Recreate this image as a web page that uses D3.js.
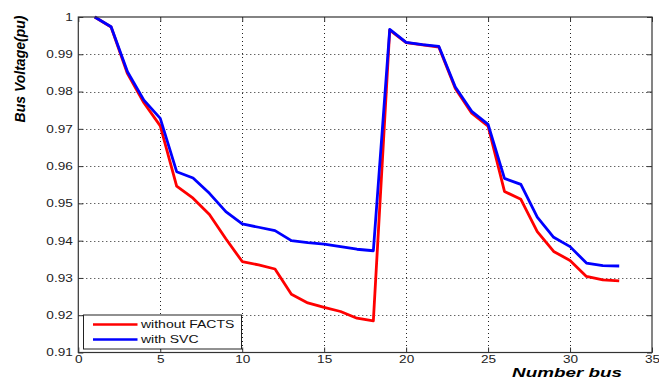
<!DOCTYPE html>
<html><head><meta charset="utf-8">
<script src="https://cdn.jsdelivr.net/npm/d3@7"></script>
<style>body{margin:0;background:#fff;} svg{display:block;}</style>
</head><body>
<svg id="chart" width="659" height="378"></svg>
<script>
const buses = [1,2,3,4,5,6,7,8,9,10,11,12,13,14,15,16,17,18,19,20,21,22,23,24,25,26,27,28,29,30,31,32,33];
const withoutFACTS = [1.0000,0.9973,0.9848,0.9770,0.9708,0.9546,0.9514,0.9470,0.9405,0.9344,0.9335,0.9324,0.9256,0.9233,0.9221,0.9210,0.9192,0.9185,0.9965,0.9931,0.9925,0.9919,0.9808,0.9742,0.9707,0.9532,0.9511,0.9424,0.9371,0.9347,0.9304,0.9295,0.9292];
const withSVC = [1.0000,0.9974,0.9853,0.9777,0.9728,0.9585,0.9568,0.9527,0.9478,0.9445,0.9436,0.9427,0.9400,0.9395,0.9391,0.9384,0.9377,0.9373,0.9967,0.9932,0.9926,0.9921,0.9812,0.9747,0.9712,0.9567,0.9551,0.9463,0.9409,0.9384,0.9340,0.9333,0.9332];
const xTicks = [0,5,10,15,20,25,30,35];
const yTicks = [0.91,0.92,0.93,0.94,0.95,0.96,0.97,0.98,0.99,1];
const yTickLabels = ["0.91","0.92","0.93","0.94","0.95","0.96","0.97","0.98","0.99","1"];
const seriesNames = ["without FACTS","with SVC"];
const seriesColors = ["#ff0000","#0000ff"];

const L = 78.3, R = 652, T = 17, B = 352.5;
const SX = 1.36;
const svg = d3.select("#chart");
const x = d3.scaleLinear().domain([0,35]).range([L,R]);
const y = d3.scaleLinear().domain([0.91,1]).range([B,T]);

// grid
const grid = svg.append("g").attr("stroke","#222").attr("stroke-width",1).attr("stroke-dasharray","1,3");
grid.selectAll("line.gx").data(xTicks.filter(d=>d>0&&d<35)).join("line")
  .attr("x1",d=>Math.round(x(d))+0.5).attr("x2",d=>Math.round(x(d))+0.5).attr("y1",T).attr("y2",B);
grid.selectAll("line.gy").data(yTicks.filter(d=>d>0.91&&d<1)).join("line")
  .attr("x1",L).attr("x2",R).attr("y1",d=>Math.round(y(d))+0.5).attr("y2",d=>Math.round(y(d))+0.5);

// lines
const line = d3.line().x((d,i)=>x(buses[i])).y(d=>y(d));
[withoutFACTS, withSVC].forEach((s,k)=>{
  svg.append("path").datum(s).attr("fill","none").attr("stroke",seriesColors[k])
    .attr("stroke-width",2.8).attr("stroke-linejoin","round").attr("d",line);
});

// axes
const ax = svg.append("g").attr("font-family","Arial, 'Liberation Sans', sans-serif");
const bottom = ax.append("g").attr("transform",`translate(0,${B})`)
  .call(d3.axisBottom(x).tickValues(xTicks).tickSizeInner(-5).tickSizeOuter(0).tickPadding(0).tickFormat(d3.format("d")));
bottom.selectAll("text").attr("y",null).attr("dy",null)
  .attr("transform",`translate(0,10) scale(${SX},1)`);
const left = ax.append("g").attr("transform",`translate(${L},0)`)
  .call(d3.axisLeft(y).tickValues(yTicks).tickSizeInner(-5).tickSizeOuter(0).tickPadding(0).tickFormat((d,i)=>yTickLabels[i]));
left.selectAll("text").attr("x",null).attr("dy","0.34em")
  .attr("transform",`translate(-5.5,0) scale(${SX},1)`);
ax.append("g").attr("transform",`translate(0,${T})`)
  .call(d3.axisTop(x).tickValues(xTicks).tickSizeInner(-5).tickSizeOuter(0).tickFormat(""));
ax.append("g").attr("transform",`translate(${R},0)`)
  .call(d3.axisRight(y).tickValues(yTicks).tickSizeInner(-5).tickSizeOuter(0).tickFormat(""));
ax.selectAll("text").attr("font-size",10).attr("fill","#222");
ax.selectAll(".tick line").attr("stroke","#333");
ax.selectAll(".domain").attr("stroke","none");
svg.append("rect").attr("x",L).attr("y",T).attr("width",R-L).attr("height",B-T)
  .attr("fill","none").attr("stroke","#333").attr("stroke-width",1.2);

// legend
const lg = svg.append("g");
lg.append("rect").attr("x",83.5).attr("y",315).attr("width",158).attr("height",34)
  .attr("fill","#fff").attr("stroke","#222").attr("stroke-width",1);
seriesNames.forEach((n,k)=>{
  const yy = 324.5 + k*15;
  lg.append("line").attr("x1",93).attr("x2",137.5).attr("y1",yy).attr("y2",yy)
    .attr("stroke",seriesColors[k]).attr("stroke-width",2.6);
  lg.append("text").attr("transform",`translate(141,${yy+3.7}) scale(${SX},1)`)
    .attr("font-family","Arial, 'Liberation Sans', sans-serif").attr("font-size",10.3)
    .attr("fill","#111").text(n);
});

// axis titles
svg.append("text").attr("transform","translate(25,69) rotate(-90)")
  .attr("text-anchor","middle").attr("font-family","Arial, 'Liberation Sans', sans-serif")
  .attr("font-size",14).attr("font-weight","bold").attr("font-style","italic").attr("fill","#000")
  .text("Bus Voltage(pu)");
svg.append("text").attr("transform",`translate(622,377) scale(1.45,1)`)
  .attr("text-anchor","end").attr("font-family","Arial, 'Liberation Sans', sans-serif")
  .attr("font-size",13).attr("font-weight","bold").attr("font-style","italic").attr("fill","#000")
  .text("Number bus");
</script>
</body></html>
